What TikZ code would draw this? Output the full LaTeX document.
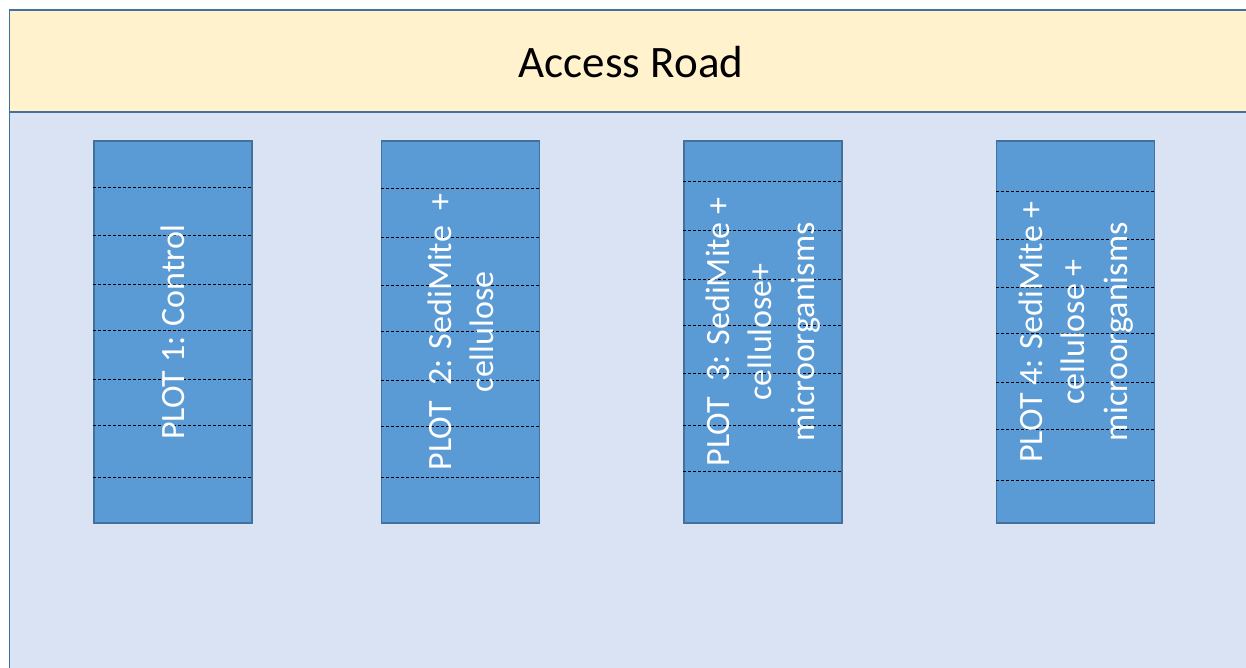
\documentclass[tikz,border=0pt]{standalone}
\usepackage{fontspec}
\setmainfont{Carlito}
\definecolor{roadfill}{HTML}{FFF2CC}
\definecolor{fieldfill}{HTML}{DAE3F3}
\definecolor{plotfill}{HTML}{5B9BD5}
\definecolor{edge}{HTML}{41719C}
\tikzset{
  road/.style={fill=roadfill, draw=edge, line width=1.6pt},
  field/.style={fill=fieldfill, draw=edge, line width=1.2pt},
  plotbox/.style={fill=plotfill, draw=edge, line width=1.4pt, minimum width=158pt, minimum height=382pt, inner sep=0pt},
  plottext/.style={text=white, rotate=90, align=center, font=\fontsize{34}{42.5}\selectfont, inner sep=0pt},
  roadtext/.style={text=black, font=\fontsize{45}{54}\selectfont, inner sep=0pt},
  divider/.style={draw=black, line width=0.9pt, dash pattern=on 3pt off 2pt}
}
\begin{document}
\begin{tikzpicture}[x=1pt,y=-1pt]
\useasboundingbox (0,0) rectangle (1246,667);
\fill[white] (0,0) rectangle (1246,667);
\draw[field] (9.5,112) rectangle (1262,690);
\draw[road] (9.5,10) rectangle (1262,112);
\node[roadtext] (roadlabel) at (631,62) {Access Road};

\node[plotbox] (p1) at (173,332) {};
\node[plotbox] (p2) at (460.7,332) {};
\node[plotbox] (p3) at (763,332) {};
\node[plotbox] (p4) at (1075.7,332) {};

\foreach \y in {187.3,235.7,284,330.3,379,425.3,477}
  \draw[divider] (p1.west |- 0,\y) -- (p1.east |- 0,\y);
\foreach \y in {188.3,237.3,285.7,331.3,380,426.3,477.7}
  \draw[divider] (p2.west |- 0,\y) -- (p2.east |- 0,\y);
\foreach \y in {181.7,230.7,279.3,325,373.3,425.3,471.3}
  \draw[divider] (p3.west |- 0,\y) -- (p3.east |- 0,\y);
\foreach \y in {191,239.3,287.7,333.3,382.7,429.3,480.3}
  \draw[divider] (p4.west |- 0,\y) -- (p4.east |- 0,\y);

\node[plottext] (t1) at (p1.center) {PLOT 1: Control};
\node[plottext] (t2) at (p2.center) {PLOT\ \ 2: SediMite\ \ +\\cellulose};
\node[plottext] (t3) at (p3.center) {PLOT\ \ 3: SediMite +\\cellulose+\\microorganisms};
\node[plottext] (t4) at (p4.center) {PLOT 4: SediMite +\\cellulose +\\microorganisms};
\end{tikzpicture}
\end{document}
